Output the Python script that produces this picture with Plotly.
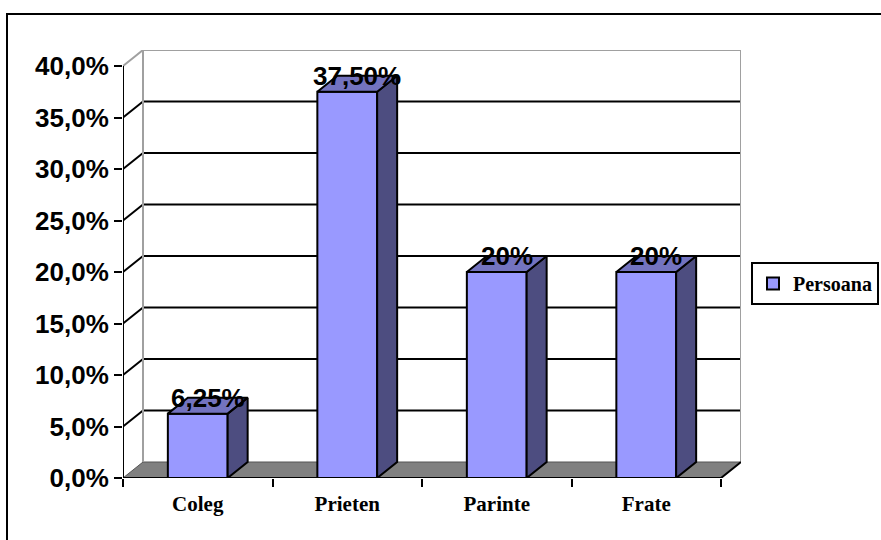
import plotly.graph_objects as go

# ---- data ----
categories = ["Coleg", "Prieten", "Parinte", "Frate"]
values = [6.25, 37.5, 20, 20]
value_labels = ["6,25%", "37,50%", "20%", "20%"]
series_name = "Persoana"
y_ticks = [0, 5, 10, 15, 20, 25, 30, 35, 40]
y_tick_text = [f"{t:.1f}".replace(".", ",") + "%" for t in y_ticks]

# ---- geometry / style ----
W, H = 881, 540
L, R, T, B = 123, 140, 50, 62
plot_w = W - L - R
plot_h = H - T - B
DX_PX, DY_PX = 20, 16
x_front = (-0.5, len(categories) - 0.5)
px_per_x = (plot_w - DX_PX) / (x_front[1] - x_front[0])
y_top = max(y_ticks)
px_per_y = (plot_h - DY_PX) / y_top
dxd = DX_PX / px_per_x
dyd = DY_PX / px_per_y
x_range = [x_front[0], x_front[1] + dxd]
y_range = [0, y_top + dyd]

FRONT = "#9999FF"
TOP = "#7373BF"
SIDE = "#4D4D80"
FLOOR = "#808080"
WALL_EDGE = "#A0A0A0"
bar_w = 0.4

fig = go.Figure()

# side and top faces
sx, sy, tx, ty = [], [], [], []
for i, v in enumerate(values):
    xl, xr = i - bar_w / 2, i + bar_w / 2
    sx += [xr, xr + dxd, xr + dxd, xr, xr, None]
    sy += [0, dyd, v + dyd, v, 0, None]
    tx += [xl, xr, xr + dxd, xl + dxd, xl, None]
    ty += [v, v, v + dyd, v + dyd, v, None]

fig.add_trace(go.Scatter(x=sx, y=sy, fill="toself", fillcolor=SIDE, mode="lines",
                         line=dict(color="black", width=2), showlegend=False, hoverinfo="skip"))
fig.add_trace(go.Scatter(x=tx, y=ty, fill="toself", fillcolor=TOP, mode="lines",
                         line=dict(color="black", width=2), showlegend=False, hoverinfo="skip"))
fig.add_trace(go.Bar(x=list(range(len(categories))), y=values, width=bar_w, name=series_name,
                     marker=dict(color=FRONT, line=dict(color="black", width=2)),
                     showlegend=True))

shapes = []
# back wall (white) and floor
shapes.append(dict(type="rect", xref="x", yref="y", x0=x_front[0] + dxd, x1=x_range[1],
                   y0=dyd, y1=y_top + dyd, fillcolor="white", line=dict(width=0), layer="below"))
shapes.append(dict(type="path", xref="x", yref="y",
                   path=f"M{x_front[0]},0 L{x_front[1]},0 L{x_front[1] + dxd},{dyd} L{x_front[0] + dxd},{dyd} Z",
                   fillcolor=FLOOR, line=dict(color="#555555", width=1), layer="below"))
# gridlines on back wall + left wall diagonals
for t in y_ticks[1:]:
    col = WALL_EDGE if t == y_top else "black"
    shapes.append(dict(type="line", xref="x", yref="y", x0=x_front[0] + dxd, x1=x_range[1],
                       y0=t + dyd, y1=t + dyd, line=dict(color=col, width=2), layer="below"))
    shapes.append(dict(type="line", xref="x", yref="y", x0=x_front[0], x1=x_front[0] + dxd,
                       y0=t, y1=t + dyd, line=dict(color=col, width=2), layer="below"))
# back wall vertical edges
for xv in (x_front[0] + dxd, x_range[1]):
    shapes.append(dict(type="line", xref="x", yref="y", x0=xv, x1=xv, y0=dyd, y1=y_top + dyd,
                       line=dict(color=WALL_EDGE, width=2), layer="below"))
# front axis lines
shapes.append(dict(type="line", xref="x", yref="y", x0=x_front[0], x1=x_front[0], y0=0, y1=y_top,
                   line=dict(color="black", width=2)))
shapes.append(dict(type="line", xref="x", yref="y", x0=x_front[0], x1=x_front[1], y0=0, y1=0,
                   line=dict(color="black", width=2)))
shapes.append(dict(type="line", xref="x", yref="y", x0=x_front[1], x1=x_front[1] + dxd, y0=0, y1=dyd,
                   line=dict(color="black", width=2)))
# outer chart frame
shapes.append(dict(type="rect", xref="paper", yref="paper",
                   x0=(7 - L) / plot_w, x1=(W + 5 - L) / plot_w,
                   y0=-(H + 5 - (T + plot_h)) / plot_h, y1=(T + plot_h - 14) / plot_h,
                   line=dict(color="black", width=2), fillcolor="rgba(0,0,0,0)"))

annotations = []
for i, (v, lab) in enumerate(zip(values, value_labels)):
    annotations.append(dict(x=i + dxd / 2, y=v, xref="x", yref="y", text=lab, showarrow=False,
                            yanchor="bottom", xanchor="center", yshift=-1,
                            font=dict(family="Liberation Sans", size=26, color="black", weight="bold")))

fig.update_layout(
    width=W, height=H,
    margin=dict(l=L, r=R, t=T, b=B, autoexpand=False),
    paper_bgcolor="white", plot_bgcolor="white",
    shapes=shapes, annotations=annotations,
    showlegend=True,
    legend=dict(x=(751 - L) / plot_w, y=(T + plot_h - 262) / plot_h, xanchor="left", yanchor="top",
                bordercolor="black", borderwidth=2, bgcolor="white",
                font=dict(family="Liberation Serif, serif", size=20, color="black", weight="bold")),
    xaxis=dict(range=x_range, tickvals=list(range(len(categories))), ticktext=categories,
               showgrid=False, zeroline=False, showline=False,
               ticks="outside", ticklen=7, tickcolor="rgba(0,0,0,0)",
               tickfont=dict(family="Liberation Serif, serif", size=21, color="black", weight="bold"),
               minor=dict(tickvals=[k - 0.5 for k in range(len(categories) + 1)], ticks="outside",
                          ticklen=8, tickwidth=2, tickcolor="black", showgrid=False)),
    yaxis=dict(range=y_range, tickvals=y_ticks, ticktext=y_tick_text,
               showgrid=False, zeroline=False, showline=False,
               ticks="outside", ticklen=8, tickwidth=2, tickcolor="black",
               tickfont=dict(family="Liberation Sans", size=26, color="black", weight="bold")),
)

fig.write_html("out.html")
